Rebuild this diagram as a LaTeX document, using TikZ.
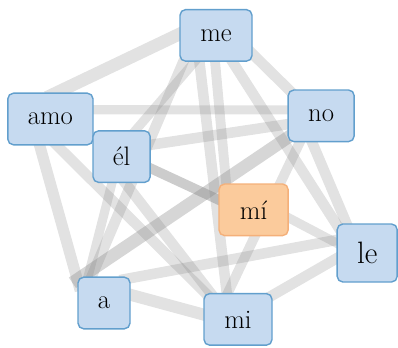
\documentclass[tikz,border=0pt]{standalone}
\usetikzlibrary{backgrounds}
\definecolor{wordfill}{HTML}{C6DAF0}
\definecolor{wordline}{HTML}{629FCD}
\definecolor{hotfill}{HTML}{FBCB9C}
\definecolor{hotline}{HTML}{F4B07A}
\begin{document}
\begin{tikzpicture}[
  word/.style={draw=wordline, fill=wordfill, line width=1pt, rounded corners=4pt,
    inner sep=0pt, minimum height=1.29cm, font=\fontsize{19}{21}\selectfont},
  hot/.style={word, draw=hotline, fill=hotfill},
  link/.style={draw=gray, draw opacity=0.23, line width=#1,
    shorten <=-8pt, shorten >=-8pt},
  link/.default=7.5pt]
\useasboundingbox (0,0) rectangle (9.95,8.675);
\node[word, minimum width=1.8cm] (me) at (5.40,7.79) {me};
\node[word, minimum width=2.13cm] (amo) at (1.26,5.70) {amo};
\node[word, minimum width=1.65cm] (no) at (8.03,5.78) {no};
\node[word, minimum width=1.43cm] (el) at (3.04,4.76) {él};
\node[hot, minimum width=1.73cm] (mii) at (6.34,3.43) {mí};
\node[word, minimum width=1.5cm, minimum height=1.45cm,
  font=\fontsize{22}{24}\selectfont] (le) at (9.18,2.35) {le};
\node[word, minimum width=1.3cm] (a) at (2.60,1.10) {a};
\node[word, minimum width=1.7cm] (mi) at (5.95,0.69) {mi};
\begin{scope}[on background layer]
\path[link=9pt] (amo.76) -- (me.178);
\path[link=6.5pt] (amo.12) -- (no.170);
\path[link=8pt] (amo.248) -- (a.139);
\path[link=7.5pt] (amo.284) -- (mi.141);
\path[link=7.5pt] (me.219) -- (a.115);
\path[link=6.5pt] (me.231) -- (el.62);
\path[link=7.5pt] (me.238) -- (mi.113);
\path[link=7pt] (me.268) -- (mii.136);
\path[link=7.5pt] (me.302) -- (le.137);
\path[link=7.5pt] (me.333) -- (no.141);
\path[link=7.5pt] (el.22) -- (no.194);
\path[link=7pt, draw opacity=0.4] (el.338) -- (mii.164);
\path[link=6.5pt] (el.250) -- (a.121);
\path[link=7.5pt] (el.278) -- (mi.136);
\path[link=9pt, draw opacity=0.32] (no.213) -- (a.130);
\path[link=7pt] (no.231) -- (mi.111);
\path[link=7.5pt] (no.251) -- (le.125);
\path[link=6.5pt] (mii.347) -- (le.162);
\path[link=7.5pt] (a.43) -- (le.157);
\path[link=7.5pt] (mi.35) -- (le.190);
\path[link=8.5pt] (a.17) -- (mi.172);
\end{scope}
\end{tikzpicture}
\end{document}
